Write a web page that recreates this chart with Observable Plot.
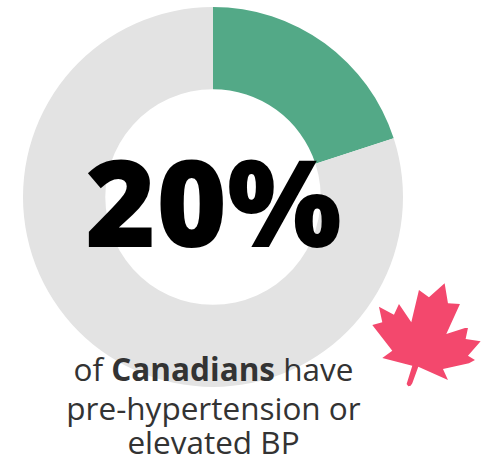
<!DOCTYPE html>
<html>
<head>
<meta charset="utf-8">
<script src="https://cdn.jsdelivr.net/npm/d3@7"></script>
<script src="https://cdn.jsdelivr.net/npm/@observablehq/plot@0.6"></script>
<style>
html,body{margin:0;padding:0;background:#fff;overflow:hidden}
svg{display:block}
</style>
</head>
<body>
<div id="chart"></div>
<script>
const categories = ["Pre-hypertension or elevated BP", "Other"];
const values = [20, 80];
const sliceColors = ["#53a987", "#e3e3e3"];
const headline = ["20%"];
const captionLines = [
  [["of ", 400], ["Canadians", 700], [" have", 400]],
  [["pre-hypertension or", 400]],
  [["elevated BP", 400]]
];
const captionY = [0.967, 1.17, 1.352];
const leafOutline = [[257,38],[267,98],[303,100],[262,190],[318,172],[327,172],[320,205],[365,212],[327,255],[348,268],[330,278],[252,295],[267,328],[178,288],[160,338],[155,345],[148,347],[143,340],[160,285],[70,262],[100,240],[40,163],[70,155],[60,108],[105,132],[120,100],[157,155],[180,58],[210,80]];

const slices = d3.pie().sort(null)(values).map((a, i) => ({
  category: categories[i], startAngle: a.startAngle, endAngle: a.endAngle
}));

function arcRender(index, scales, channels, dims, ctx) {
  const R = scales.x(1) - scales.x(0);
  const arc = d3.arc().outerRadius(R).innerRadius(R * 0.567);
  const g = d3.select(ctx.document.createElementNS("http://www.w3.org/2000/svg", "g"));
  g.selectAll("path").data(Array.from(index)).join("path")
    .attr("transform", i => `translate(${channels.x[i]},${channels.y[i]})`)
    .attr("fill", i => channels.fill[i])
    .attr("d", i => arc(slices[i]));
  return g.node();
}

const leafSymbol = {
  draw(context, size) {
    leafOutline.forEach(([a, b], i) => {
      const x = (a - 210) / 3, y = (b - 192) / 3;
      i ? context.lineTo(x, y) : context.moveTo(x, y);
    });
    context.closePath();
  }
};

function richText(index, scales, channels, dims, ctx, next) {
  const g = next(index, scales, channels, dims, ctx);
  d3.select(g).selectAll("text").each(function (_, n) {
    const i = Array.from(index)[n];
    const sel = d3.select(this).text(null);
    captionLines[i].forEach(([t, w]) =>
      sel.append("tspan").attr("font-weight", w).style("white-space", "pre").text(t));
  });
  return g;
}

const plot = Plot.plot({
  width: 492,
  height: 461,
  marginLeft: 23,
  marginRight: 89,
  marginTop: 7,
  marginBottom: 74,
  style: {background: "#fff", fontFamily: "'Open Sans'"},
  x: {domain: [-1, 1], axis: null},
  y: {domain: [-1, 1], reverse: true, axis: null},
  color: {domain: categories, range: sliceColors},
  marks: [
    Plot.dot(slices, {x: () => 0, y: () => 0, fill: "category", render: arcRender}),
    Plot.dot([0], {x: () => 1.134, y: () => 0.722, r: 4.5, symbol: leafSymbol, fill: "#f3486d", stroke: "none"}),
    Plot.text(headline, {
      x: () => 0, y: () => 0.058, text: d => d, fontFamily: "'Open Sans'", fontWeight: 800,
      fontSize: 121, fill: "#000", lineAnchor: "middle"
    }),
    Plot.text(captionLines, {
      x: () => 0, y: (d, i) => captionY[i], text: d => d.map(r => r[0]).join(""),
      fontFamily: "'Open Sans'", fontSize: 31.5, fill: "#333", lineAnchor: "bottom",
      render: richText
    })
  ]
});
document.getElementById("chart").append(plot);
</script>
</body>
</html>
